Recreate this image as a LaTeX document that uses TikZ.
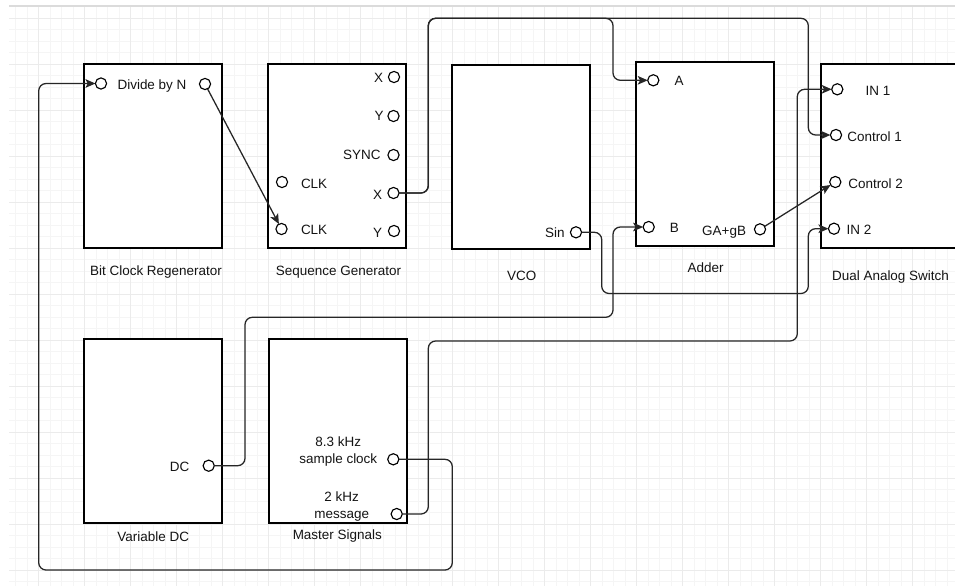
\documentclass[tikz,border=0pt]{standalone}
\usepackage{fontspec}
\setmainfont{Liberation Sans}
\usetikzlibrary{arrows.meta}
\begin{document}
\begin{tikzpicture}[x=0.75pt,y=-0.75pt,
  font=\fontsize{10.1}{12.4}\selectfont,
  gridminor/.style={draw=black!4, line width=0.6pt},
  gridmajor/.style={draw=black!8, line width=0.75pt},
  box/.style={draw=black, line width=1pt, fill=white, minimum width=103.5pt, minimum height=138pt, anchor=north west, inner sep=0pt, outer sep=0pt},
  port/.style={circle, draw=black, line width=0.85pt, fill=white, minimum size=8.4pt, inner sep=0pt, outer sep=0pt},
  conn/.style={draw=black!85, line width=0.95pt, rounded corners=5.5pt, -{Stealth[length=7.5pt,width=6.5pt,inset=1.8pt]}},
  lbl/.style={inner sep=0pt, outer sep=0pt, text=black!92},
]
\useasboundingbox (0,0) rectangle (955,586);
\fill[white] (0,0) rectangle (955,586);
% grid
\begin{scope}
\clip (9,6) rectangle (955,586);
\foreach \i in {0,...,83} \draw[gridminor] (4.2+11.5*\i,6) -- (4.2+11.5*\i,586);
\foreach \j in {0,...,51} \draw[gridminor] (9,6.5+11.5*\j) -- (955,6.5+11.5*\j);
\foreach \i in {0,...,20} \draw[gridmajor] (38.7+46*\i,6) -- (38.7+46*\i,586);
\foreach \j in {0,...,12} \draw[gridmajor] (9,18+46*\j) -- (955,18+46*\j);
\end{scope}
\draw[black!14, line width=1.5pt] (9,6) -- (955,6);

% boxes
\node[box] (bcr) at (84,64) {};
\node[box] (sg) at (268,64) {};
\node[box] (vco) at (452,65) {};
\node[box] (adder) at (636,62) {};
\node[box] (das) at (821,64) {};
\node[box] (vdc) at (84,339) {};
\node[box] (ms) at (269,339) {};

% box titles
\node[lbl, anchor=base] (tbcr) at (156,275.5) {Bit Clock Regenerator};
\node[lbl, anchor=base] (tsg) at (338.5,275.5) {Sequence Generator};
\node[lbl, anchor=base] (tvco) at (521.7,280) {VCO};
\node[lbl, anchor=base] (tadder) at (705.7,272.7) {Adder};
\node[lbl, anchor=base] (tdas) at (890.5,280) {Dual Analog Switch};
\node[lbl, anchor=base] (tvdc) at (153.2,541.7) {Variable DC};
\node[lbl, anchor=base] (tms) at (337.3,539) {Master Signals};

% ports
\node[port] (bcrIn) at (101,83.5) {};
\node[port] (bcrOut) at (205,84) {};
\node[lbl, anchor=base] (tdiv) at (152,89.3) {Divide by N};

\node[port] (sgX1) at (394,77) {};
\node[port] (sgY1) at (393.5,116) {};
\node[port] (sgSync) at (393.5,155) {};
\node[port] (sgX2) at (393.5,193) {};
\node[port] (sgY2) at (394,231) {};
\node[port] (sgClk1) at (282,182) {};
\node[port] (sgClk2) at (281.5,229) {};
\node[lbl, anchor=base east] (tx1) at (383,82.3) {X};
\node[lbl, anchor=base east] (ty1) at (383.5,120.7) {Y};
\node[lbl, anchor=base east] (tsync) at (380.5,159.3) {SYNC};
\node[lbl, anchor=base east] (tx2) at (382,199.5) {X};
\node[lbl, anchor=base east] (ty2) at (382,237.5) {Y};
\node[lbl, anchor=base west] (tclk1) at (301,188.3) {CLK};
\node[lbl, anchor=base west] (tclk2) at (301,234.3) {CLK};

\node[port] (vcoSin) at (576,232.3) {};
\node[lbl, anchor=base east] (tsin) at (564.5,237.3) {Sin};

\node[port] (adA) at (653.3,80.3) {};
\node[port] (adB) at (648.7,227) {};
\node[port] (adOut) at (760,229.3) {};
\node[lbl, anchor=base] (ta) at (679,85) {A};
\node[lbl, anchor=base] (tb) at (674.3,232.3) {B};
\node[lbl, anchor=base east] (tgab) at (746,235) {GA+gB};

\node[port] (dasIn1) at (837.3,89.3) {};
\node[port] (dasC1) at (836,135) {};
\node[port] (dasC2) at (835.3,182) {};
\node[port] (dasIn2) at (834,228.7) {};
\node[lbl, anchor=base west] (tin1) at (865.7,95) {IN 1};
\node[lbl, anchor=base west] (tc1) at (847.3,141.3) {Control 1};
\node[lbl, anchor=base west] (tc2) at (848.3,188.3) {Control 2};
\node[lbl, anchor=base west] (tin2) at (846.7,234) {IN 2};

\node[port] (vdcDC) at (208.7,465.7) {};
\node[lbl, anchor=base east] (tdc) at (189.3,471.7) {DC};

\node[port] (msClk) at (393.3,459.3) {};
\node[port] (msMsg) at (396.7,514) {};
\node[lbl, anchor=north, align=center] (tclk83) at (338.3,436.9) {8.3 kHz\\sample clock};
\node[lbl, anchor=north, align=center] (tmsg) at (341.7,491.9) {2 kHz\\message};

% connectors
\draw[conn] (bcrOut) -- (sgClk2);
\draw[conn] (adOut) -- (dasC2);
\draw[conn] (sgX2) -| (428.3,18.3) -- (808.3,18.3) |- (dasC1);
\draw[conn] (sgX2) -| (428.3,18.3) -- (613,18.3) [sharp corners] -- (613,40) [rounded corners=5.5pt] |- (adA);
\draw[conn] (vcoSin) -| (601.7,293.5) -- (808.3,293.5) |- (dasIn2);
\draw[conn] (vdcDC) -| (245,317.3) -- (613,317.3) |- (adB);
\draw[conn] (msMsg) -| (428.3,341) -- (797.3,341) |- (dasIn1);
\draw[conn] (msClk) -| (452.3,570) -- (38.7,570) |- (bcrIn);
\end{tikzpicture}
\end{document}
